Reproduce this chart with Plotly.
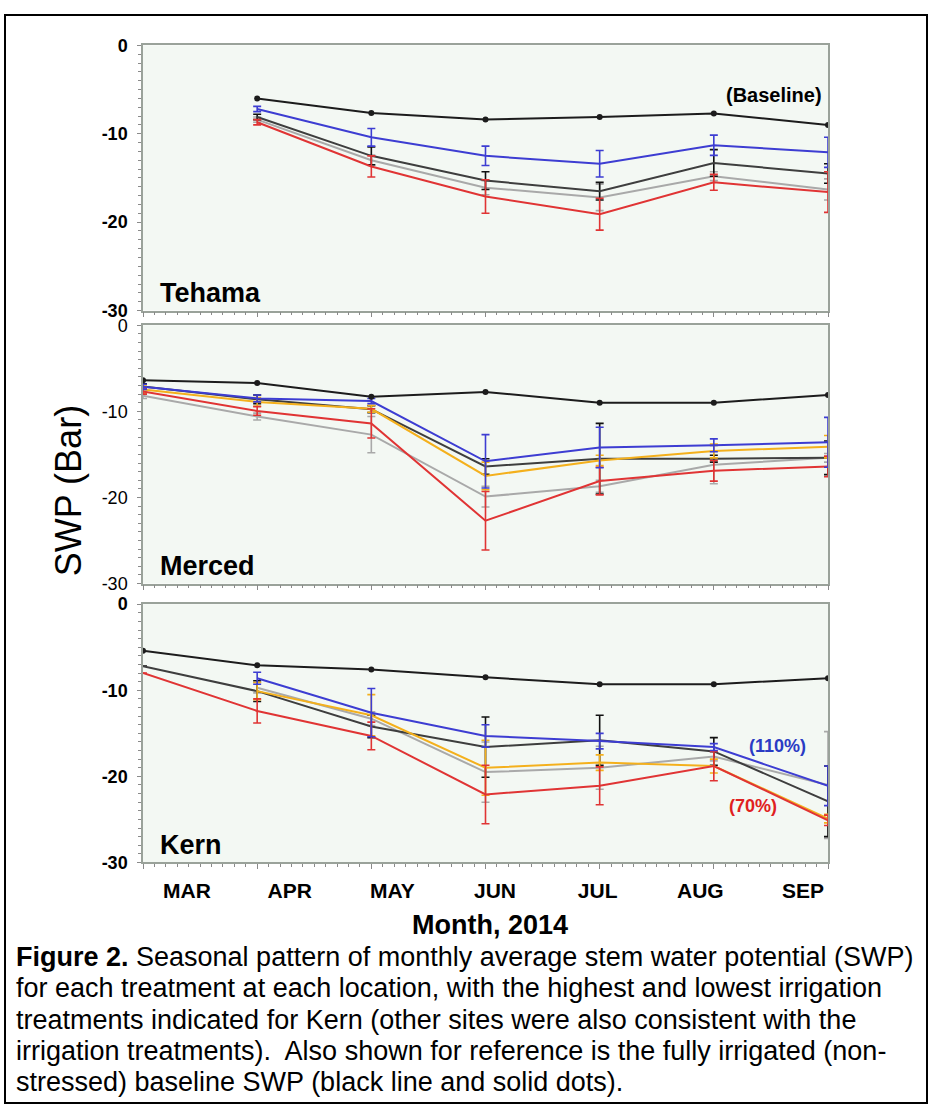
import plotly.graph_objects as go

W, H = 932, 1118

# ---- data -------------------------------------------------------------
months = ["MAR", "APR", "MAY", "JUN", "JUL", "AUG", "SEP"]
month_idx = list(range(len(months)))

# Tehama (no March readings)
teh_baseline = [None, -6.0, -7.65, -8.4, -8.1, -7.7, -9.0]
teh_blue = [None, -7.2, -10.4, -12.5, -13.4, -11.3, -12.1]
teh_blue_err = [None, 0.3, 1.0, 1.1, 1.5, 1.15, 1.7]
teh_dark = [None, -8.1, -12.5, -15.3, -16.5, -13.3, -14.5]
teh_dark_err = [None, 0.3, 1.0, 1.0, 1.0, 1.5, 1.1]
teh_light = [None, -8.4, -13.0, -16.1, -17.2, -14.8, -16.3]
teh_light_err = [None, 0.3, 0.6, 0.8, 1.5, 0.5, 1.2]
teh_red = [None, -8.7, -13.7, -17.1, -19.1, -15.5, -16.6]
teh_red_err = [None, 0.3, 1.2, 1.9, 1.8, 0.9, 2.3]

# Merced
mer_baseline = [-6.4, -6.7, -8.3, -7.75, -9.0, -9.0, -8.1]
mer_blue = [-7.15, -8.5, -8.8, -15.8, -14.2, -13.95, -13.6]
mer_blue_err = [0.3, 0.4, 0.3, 3.1, 2.35, 0.75, 2.9]
mer_dark = [-7.1, -8.6, -9.75, -16.4, -15.5, -15.5, -15.4]
mer_dark_err = [0.3, 0.5, 0.4, 0.9, 4.1, 0.4, 1.95]
mer_orange = [-7.45, -8.9, -9.7, -17.5, -15.7, -14.6, -14.1]
mer_orange_err = [0.4, 0.5, 0.4, 1.6, 0.6, 0.8, 1.3]
mer_light = [-8.2, -10.6, -12.7, -19.9, -18.7, -16.2, -15.4]
mer_light_err = [0.3, 0.4, 2.1, 1.2, 0.7, 2.2, 0.5]
mer_red = [-7.7, -9.95, -11.4, -22.7, -18.1, -16.9, -16.4]
mer_red_err = [0.3, 0.5, 1.7, 3.4, 1.6, 1.2, 1.2]

# Kern
kern_baseline = [-5.4, -7.1, -7.6, -8.5, -9.3, -9.3, -8.6]
kern_blue = [None, -8.6, -12.6, -15.3, -15.9, -16.6, -21.1]
kern_blue_err = [None, 0.7, 2.8, 1.3, 0.9, 0.4, 2.3]
kern_dark = [-7.2, -10.1, -14.2, -16.6, -15.8, -17.1, -22.9]
kern_dark_err = [None, 1.2, 1.3, 3.5, 2.9, 1.6, 4.1]
kern_orange = [None, -10.1, -12.9, -19.0, -18.4, -18.8, -24.9]
kern_orange_err = [None, 1.0, 2.4, 3.2, 0.9, 0.8, 0.5]
kern_light = [None, -9.7, -13.3, -19.5, -19.0, -17.7, -21.0]
kern_light_err = [None, 0.6, 0.8, 3.5, 2.5, 0.5, 6.2]
kern_red = [-8.0, -12.4, -15.3, -22.1, -21.1, -18.8, -25.1]
kern_red_err = [None, 1.4, 1.6, 3.4, 2.2, 1.7, 0.6]

sites = ["Tehama", "Merced", "Kern"]
y_ticks = [0, -10, -20, -30]

caption_lines = [
    "<b>Figure 2.</b> Seasonal pattern of monthly average stem water potential (SWP)",
    "for each treatment at each location, with the highest and lowest irrigation",
    "treatments indicated for Kern (other sites were also consistent with the",
    "irrigation treatments).  Also shown for reference is the fully irrigated (non-",
    "stressed) baseline SWP (black line and solid dots).",
]

# ---- styling ----------------------------------------------------------
C_BASE = "#1c1c1c"
C_DARK = "#3e3e3e"
C_LIGHT = "#a9a9a9"
C_BLUE = "#3d3dd2"
C_RED = "#e03434"
C_ORANGE = "#f4b01c"
FONT = "Liberation Sans, Arial, sans-serif"


def px_x(p):
    return p / W


def px_y(p):
    return 1 - p / H


x_dom = [px_x(143), px_x(828)]
panel_px = [(36, 306), (321, 584), (605, 868)]
tick_weight = ["bold", "normal", "bold"]

panels = [
    (teh_baseline, [(teh_light, teh_light_err, C_LIGHT), (teh_dark, teh_dark_err, C_DARK),
                    (teh_red, teh_red_err, C_RED), (teh_blue, teh_blue_err, C_BLUE)]),
    (mer_baseline, [(mer_light, mer_light_err, C_LIGHT), (mer_dark, mer_dark_err, C_DARK),
                    (mer_orange, mer_orange_err, C_ORANGE), (mer_red, mer_red_err, C_RED),
                    (mer_blue, mer_blue_err, C_BLUE)]),
    (kern_baseline, [(kern_light, kern_light_err, C_LIGHT), (kern_dark, kern_dark_err, C_DARK),
                     (kern_orange, kern_orange_err, C_ORANGE), (kern_red, kern_red_err, C_RED),
                     (kern_blue, kern_blue_err, C_BLUE)]),
]

fig = go.Figure()
layout = dict(
    width=W, height=H, margin=dict(l=0, r=0, t=0, b=0),
    paper_bgcolor="white", plot_bgcolor="#f3f8f3",
    showlegend=False, font=dict(family=FONT, color="black"),
)

for i, (base, series) in enumerate(panels):
    n = "" if i == 0 else str(i + 1)
    xa, ya = "x" + n, "y" + n
    for vals, errs, col in series:
        err_col = "#111111" if col == C_DARK else col
        fig.add_trace(go.Scatter(
            x=month_idx, y=vals, xaxis=xa, yaxis=ya, mode="lines",
            line=dict(color=col, width=2),
            error_y=dict(type="data", array=errs, color=err_col, thickness=1.6, width=4),
            hoverinfo="skip"))
    fig.add_trace(go.Scatter(
        x=month_idx, y=base, xaxis=xa, yaxis=ya, mode="lines+markers",
        line=dict(color=C_BASE, width=2), marker=dict(color=C_BASE, size=6),
        hoverinfo="skip"))

    top, bot = panel_px[i]
    axis_common = dict(showline=True, linecolor="#9aa29a", linewidth=1.5, mirror=True,
                       showgrid=False, zeroline=False, ticks="outside", tickcolor="#8a8a8a")
    layout["xaxis" + n] = dict(
        domain=x_dom, anchor=ya, range=[0, 6], tickvals=month_idx, showticklabels=False,
        ticklen=5, minor=dict(dtick=0.1, ticklen=3, ticks="outside", tickcolor="#8a8a8a"),
        **axis_common)
    layout["yaxis" + n] = dict(
        domain=[px_y(bot), px_y(top)], anchor=xa, range=[-30, 0], tickvals=y_ticks,
        ticktext=[str(v) for v in y_ticks], ticklen=4, ticklabelstandoff=6,
        tickfont=dict(size=18, family=FONT, color="black", weight=tick_weight[i]),
        minor=dict(dtick=1, ticklen=3, ticks="outside", tickcolor="#8a8a8a"),
        **axis_common)

# month labels live on their own overlay axis under the Kern panel
fig.add_trace(go.Scatter(x=[], y=[], xaxis="x4", yaxis="y3", hoverinfo="skip"))
lab_first, lab_step = 187, 102.67
r0 = -(lab_first - 143) / lab_step
layout["xaxis4"] = dict(
    domain=x_dom, anchor="y3", overlaying="x3", range=[r0, r0 + (828 - 143) / lab_step],
    tickvals=month_idx, ticktext=months, ticks="", showline=False, showgrid=False,
    zeroline=False, ticklabelstandoff=14,
    tickfont=dict(size=21, family=FONT, color="black", weight="bold"))

fig.update_layout(**layout)

# panel names
for name, ypix in zip(sites, [288, 566, 850]):
    fig.add_annotation(xref="paper", yref="paper", x=px_x(158), y=px_y(ypix),
                       xanchor="left", yanchor="middle", showarrow=False,
                       text=f"<b>{name}</b>", font=dict(size=27, family=FONT))

# series notes
fig.add_annotation(xref="paper", yref="paper", x=px_x(824), y=px_y(87), xanchor="right",
                   yanchor="middle", showarrow=False, text="<b>(Baseline)</b>",
                   font=dict(size=20, family=FONT))
fig.add_annotation(xref="paper", yref="paper", x=px_x(777), y=px_y(749), xanchor="center",
                   yanchor="middle", showarrow=False, text="<b>(110%)</b>",
                   font=dict(size=18, family=FONT, color="#2a3bc4"))
fig.add_annotation(xref="paper", yref="paper", x=px_x(753), y=px_y(811), xanchor="center",
                   yanchor="middle", showarrow=False, text="<b>(70%)</b>",
                   font=dict(size=18, family=FONT, color="#e02020"))

# axis titles
fig.add_annotation(xref="paper", yref="paper", x=px_x(490), y=px_y(932), xanchor="center",
                   yanchor="middle", showarrow=False, text="<b>Month, 2014</b>",
                   font=dict(size=27, family=FONT))
fig.add_annotation(xref="paper", yref="paper", x=px_x(68), y=px_y(490), xanchor="center",
                   yanchor="middle", showarrow=False, text="SWP (Bar)", textangle=-90,
                   font=dict(size=36, family=FONT))

# caption
for k, line in enumerate(caption_lines):
    fig.add_annotation(xref="paper", yref="paper", x=px_x(14), y=px_y(964 + 32 * k),
                       xanchor="left", yanchor="middle", showarrow=False, text=line,
                       font=dict(size=27, family=FONT))

# outer frame
fig.add_shape(type="rect", xref="paper", yref="paper", x0=px_x(5), x1=px_x(927),
              y0=px_y(1113), y1=px_y(5), line=dict(color="black", width=2))

fig.write_html("out.html")
